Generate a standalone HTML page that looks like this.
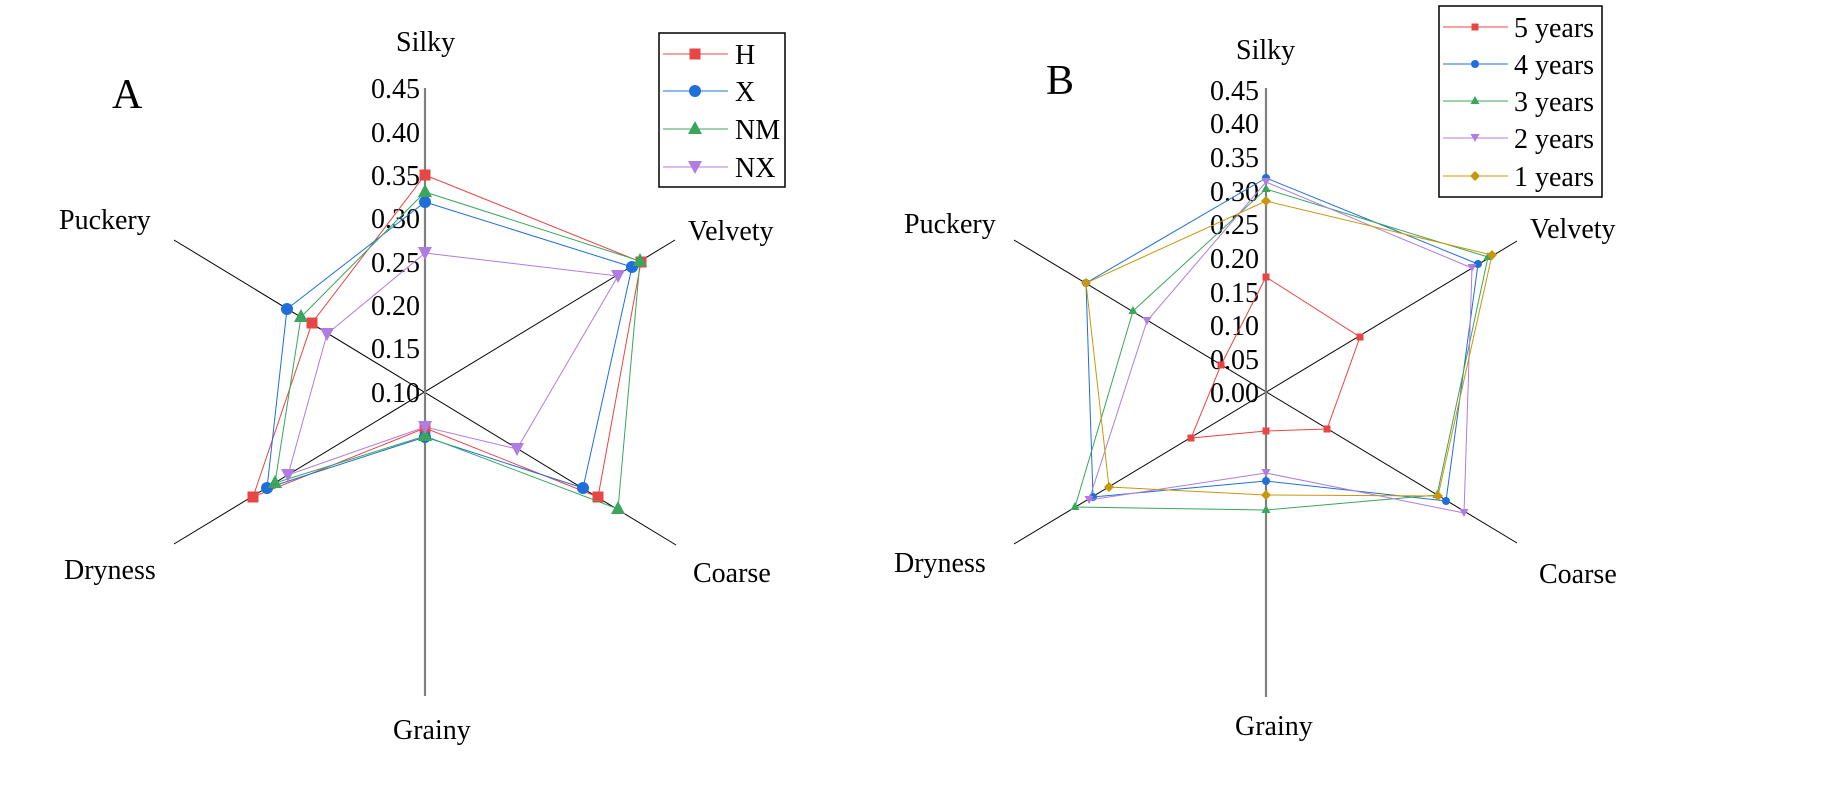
<!DOCTYPE html>
<html>
<head>
<meta charset="utf-8">
<style>
html,body{margin:0;padding:0;background:#fff;}
svg{display:block;}
text{font-family:"Liberation Serif","Times New Roman",serif;fill:#000;}
</style>
</head>
<body>
<svg width="1848" height="812" viewBox="0 0 1848 812" xmlns="http://www.w3.org/2000/svg">
<rect width="1848" height="812" fill="#fff"/>

<!-- ================= CHART A ================= -->
<g>
  <!-- axes -->
  <line x1="174" y1="240" x2="676" y2="545" stroke="#000" stroke-width="1"/>
  <line x1="174" y1="544" x2="675" y2="240" stroke="#000" stroke-width="1"/>
  <line x1="425" y1="88" x2="425" y2="696" stroke="#808080" stroke-width="2.2"/>

  <!-- tick labels -->
  <g font-size="28" text-anchor="end">
    <text x="420" y="98">0.45</text>
    <text x="420" y="142">0.40</text>
    <text x="420" y="185">0.35</text>
    <text x="420" y="228">0.30</text>
    <text x="420" y="272">0.25</text>
    <text x="420" y="315">0.20</text>
    <text x="420" y="358">0.15</text>
    <text x="420" y="402">0.10</text>
  </g>

  <!-- axis labels -->
  <g font-size="28">
    <text x="396" y="51">Silky</text>
    <text x="688" y="240">Velvety</text>
    <text x="693" y="582">Coarse</text>
    <text x="393" y="739">Grainy</text>
    <text x="64" y="579">Dryness</text>
    <text x="59" y="229">Puckery</text>
  </g>
  <text x="112" y="108" font-size="42">A</text>

  <!-- series H (red squares) -->
  <polygon points="425,175 641,262 598,497 425,428 253,497 312,323" fill="none" stroke="#E84545" stroke-width="1"/>
  <g fill="#E84545">
    <rect x="419.5" y="169.5" width="11" height="11"/>
    <rect x="635.5" y="256.5" width="11" height="11"/>
    <rect x="592.5" y="491.5" width="11" height="11"/>
    <rect x="419.5" y="422.5" width="11" height="11"/>
    <rect x="247.5" y="491.5" width="11" height="11"/>
    <rect x="306.5" y="317.5" width="11" height="11"/>
  </g>

  <!-- series X (blue circles) -->
  <polygon points="425,202 632,267 583,488 425,437 267,488 287,309" fill="none" stroke="#1E6FD9" stroke-width="1"/>
  <g fill="#1E6FD9">
    <circle cx="425" cy="202" r="6"/>
    <circle cx="632" cy="267" r="6"/>
    <circle cx="583" cy="488" r="6"/>
    <circle cx="425" cy="437" r="6"/>
    <circle cx="267" cy="488" r="6"/>
    <circle cx="287" cy="309" r="6"/>
  </g>

  <!-- series NM (green triangles) -->
  <polygon points="425,192 640,261 618,509 425,436 275,483 301,317" fill="none" stroke="#3BA55C" stroke-width="1"/>
  <g fill="#3BA55C">
    <polygon points="425,184 432,197 418,197"/>
    <polygon points="640,253 647,266 633,266"/>
    <polygon points="618,501 625,514 611,514"/>
    <polygon points="425,428 432,441 418,441"/>
    <polygon points="275,475 282,488 268,488"/>
    <polygon points="301,309 308,322 294,322"/>
  </g>

  <!-- series NX (purple inverted triangles) -->
  <polygon points="425,253 618,276 517,449 425,427 288,475 327,334" fill="none" stroke="#B07CE0" stroke-width="1"/>
  <g fill="#B07CE0">
    <polygon points="418,247 432,247 425,260"/>
    <polygon points="611,270 625,270 618,283"/>
    <polygon points="510,443 524,443 517,456"/>
    <polygon points="418,421 432,421 425,434"/>
    <polygon points="281,469 295,469 288,482"/>
    <polygon points="320,328 334,328 327,341"/>
  </g>

  <!-- legend A -->
  <rect x="659" y="33" width="126" height="154" fill="#fff" stroke="#000" stroke-width="1.5"/>
  <line x1="663" y1="54" x2="728" y2="54" stroke="#E84545" stroke-width="1"/>
  <rect x="689.5" y="48.5" width="11" height="11" fill="#E84545"/>
  <line x1="663" y1="91" x2="728" y2="91" stroke="#1E6FD9" stroke-width="1"/>
  <circle cx="695" cy="91" r="6" fill="#1E6FD9"/>
  <line x1="663" y1="129" x2="728" y2="129" stroke="#3BA55C" stroke-width="1"/>
  <polygon points="695,121 702,134 688,134" fill="#3BA55C"/>
  <line x1="663" y1="167" x2="728" y2="167" stroke="#B07CE0" stroke-width="1"/>
  <polygon points="688,161 702,161 695,174" fill="#B07CE0"/>
  <g font-size="28">
    <text x="735" y="64">H</text>
    <text x="735" y="101">X</text>
    <text x="735" y="139">NM</text>
    <text x="735" y="177">NX</text>
  </g>
</g>

<!-- ================= CHART B ================= -->
<g>
  <!-- axes -->
  <line x1="1014" y1="240" x2="1517" y2="543" stroke="#000" stroke-width="1"/>
  <line x1="1014" y1="544" x2="1517" y2="241" stroke="#000" stroke-width="1"/>
  <line x1="1266" y1="88" x2="1266" y2="697" stroke="#808080" stroke-width="2.2"/>

  <!-- tick labels -->
  <g font-size="28" text-anchor="end">
    <text x="1259" y="100">0.45</text>
    <text x="1259" y="133">0.40</text>
    <text x="1259" y="167">0.35</text>
    <text x="1259" y="201">0.30</text>
    <text x="1259" y="234">0.25</text>
    <text x="1259" y="268">0.20</text>
    <text x="1259" y="302">0.15</text>
    <text x="1259" y="335">0.10</text>
    <text x="1259" y="369">0.05</text>
    <text x="1259" y="402">0.00</text>
  </g>

  <!-- axis labels -->
  <g font-size="28">
    <text x="1236" y="59">Silky</text>
    <text x="1530" y="238">Velvety</text>
    <text x="1539" y="583">Coarse</text>
    <text x="1235" y="735">Grainy</text>
    <text x="894" y="572">Dryness</text>
    <text x="904" y="233">Puckery</text>
  </g>
  <text x="1046" y="94" font-size="42">B</text>

  <!-- 5 years (red squares) -->
  <polygon points="1266,277 1360,337 1327,429 1266,431 1191,438 1221,365" fill="none" stroke="#E84545" stroke-width="1"/>
  <g fill="#E84545">
    <rect x="1262.5" y="273.5" width="7" height="7"/>
    <rect x="1356.5" y="333.5" width="7" height="7"/>
    <rect x="1323.5" y="425.5" width="7" height="7"/>
    <rect x="1262.5" y="427.5" width="7" height="7"/>
    <rect x="1187.5" y="434.5" width="7" height="7"/>
    <rect x="1217.5" y="361.5" width="7" height="7"/>
  </g>

  <!-- 4 years (blue circles) -->
  <polygon points="1266,178 1478,264 1446,501 1266,481 1093,497 1086,283" fill="none" stroke="#1E6FD9" stroke-width="1"/>
  <g fill="#1E6FD9">
    <circle cx="1266" cy="178" r="4"/>
    <circle cx="1478" cy="264" r="4"/>
    <circle cx="1446" cy="501" r="4"/>
    <circle cx="1266" cy="481" r="4"/>
    <circle cx="1093" cy="497" r="4"/>
    <circle cx="1086" cy="283" r="4"/>
  </g>

  <!-- 3 years (green triangles) -->
  <polygon points="1266,189 1488,257 1437,495 1266,510 1075,507 1133,311" fill="none" stroke="#3BA55C" stroke-width="1"/>
  <g fill="#3BA55C">
    <polygon points="1266,184 1270.5,192 1261.5,192"/>
    <polygon points="1488,252 1492.5,260 1483.5,260"/>
    <polygon points="1437,490 1441.5,498 1432.5,498"/>
    <polygon points="1266,505 1270.5,513 1261.5,513"/>
    <polygon points="1075,502 1079.5,510 1070.5,510"/>
    <polygon points="1133,306 1137.5,314 1128.5,314"/>
  </g>

  <!-- 2 years (purple inverted triangles) -->
  <polygon points="1266,182 1472,268 1464,513 1266,473 1089,500 1147,321" fill="none" stroke="#B07CE0" stroke-width="1"/>
  <g fill="#B07CE0">
    <polygon points="1261.5,178 1270.5,178 1266,186"/>
    <polygon points="1467.5,264 1476.5,264 1472,272"/>
    <polygon points="1459.5,509 1468.5,509 1464,517"/>
    <polygon points="1261.5,469 1270.5,469 1266,477"/>
    <polygon points="1084.5,496 1093.5,496 1089,504"/>
    <polygon points="1142.5,317 1151.5,317 1147,325"/>
  </g>

  <!-- 1 years (gold diamonds) -->
  <polygon points="1266,201 1492,255 1438,496 1266,495 1109,487 1086,283" fill="none" stroke="#C9970C" stroke-width="1"/>
  <g fill="#C9970C">
    <polygon points="1266,196 1271,201 1266,206 1261,201"/>
    <polygon points="1492,250 1497,255 1492,260 1487,255"/>
    <polygon points="1438,491 1443,496 1438,501 1433,496"/>
    <polygon points="1266,490 1271,495 1266,500 1261,495"/>
    <polygon points="1109,482 1114,487 1109,492 1104,487"/>
    <polygon points="1086,278 1091,283 1086,288 1081,283"/>
  </g>

  <!-- legend B -->
  <rect x="1439" y="6" width="163" height="191" fill="#fff" stroke="#000" stroke-width="1.5"/>
  <line x1="1443" y1="27" x2="1508" y2="27" stroke="#E84545" stroke-width="1"/>
  <rect x="1471.5" y="23.5" width="7" height="7" fill="#E84545"/>
  <line x1="1443" y1="64" x2="1508" y2="64" stroke="#1E6FD9" stroke-width="1"/>
  <circle cx="1475" cy="64" r="4" fill="#1E6FD9"/>
  <line x1="1443" y1="101" x2="1508" y2="101" stroke="#3BA55C" stroke-width="1"/>
  <polygon points="1475,96 1479.5,104 1470.5,104" fill="#3BA55C"/>
  <line x1="1443" y1="138" x2="1508" y2="138" stroke="#B07CE0" stroke-width="1"/>
  <polygon points="1470.5,134 1479.5,134 1475,142" fill="#B07CE0"/>
  <line x1="1443" y1="176" x2="1508" y2="176" stroke="#C9970C" stroke-width="1"/>
  <polygon points="1475,171 1480,176 1475,181 1470,176" fill="#C9970C"/>
  <g font-size="28">
    <text x="1514" y="37">5 years</text>
    <text x="1514" y="74">4 years</text>
    <text x="1514" y="111">3 years</text>
    <text x="1514" y="148">2 years</text>
    <text x="1514" y="186">1 years</text>
  </g>
</g>
</svg>
</body>
</html>
